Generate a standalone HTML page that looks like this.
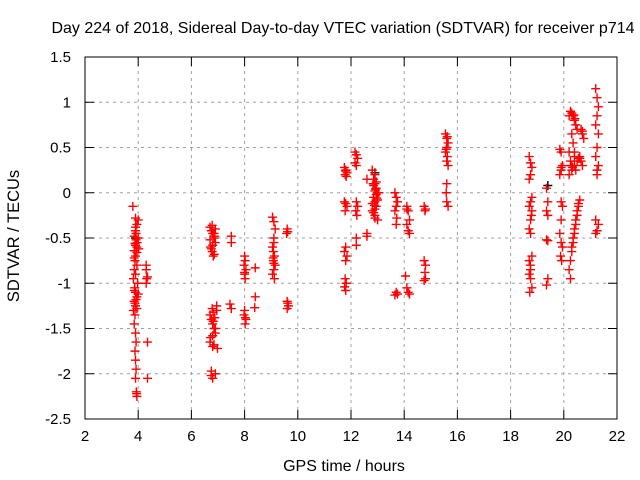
<!DOCTYPE html>
<html><head><meta charset="utf-8"><style>
body{margin:0;background:#fff}
svg{display:block;font-family:"Liberation Sans",sans-serif}
</style></head><body>
<svg id="chart" width="640" height="480">
<text x="343" y="33" font-size="16" text-anchor="middle">Day 224 of 2018, Sidereal Day-to-day VTEC variation (SDTVAR) for receiver p714</text>
<text x="344" y="471" font-size="16" text-anchor="middle">GPS time / hours</text>
<text transform="translate(19,236) rotate(-90)" font-size="16.5" text-anchor="middle">SDTVAR / TECUs</text>
<g id="grid"></g><g id="ticks"></g><g id="pts"></g>
<rect x="85" y="57" width="532" height="362" fill="none" stroke="#000" stroke-width="1"/>
</svg>
<script>
const xTicks=[2,4,6,8,10,12,14,16,18,20,22];
const yTicks=[-2.5,-2,-1.5,-1,-0.5,0,0.5,1,1.5];
const yTickLabels=["-2.5","-2","-1.5","-1","-0.5","0","0.5","1","1.5"];
const times=[3.8,3.9,3.95,3.9,3.85,3.92,3.88,3.95,3.85,3.9,3.88,3.95,3.85,3.9,3.82,3.87,3.9,3.95,3.85,3.9,3.82,3.88,3.85,3.9,3.92,3.88,3.9,3.92,3.9,3.93,3.95,4.0,4.0,4.02,3.98,4.0,3.92,3.96,3.86,3.9,3.95,3.85,3.92,3.88,3.95,3.9,3.94,
4.3,4.35,4.3,4.35,4.35,4.3,4.32,
6.7,6.75,6.8,6.85,6.9,6.72,6.78,6.82,6.88,6.7,6.8,6.9,6.75,6.85,6.7,6.75,6.8,6.85,6.9,6.72,6.78,6.82,6.88,6.95,6.7,6.8,6.9,6.95,6.85,6.98,6.75,6.9,6.78,6.82,6.74,6.8,6.86,6.8,
7.5,7.5,7.45,7.5,
8.0,8.02,7.98,8.05,8.0,8.02,8.0,7.98,8.05,8.02,8.4,8.4,8.38,8.0,8.03,
9.05,9.1,9.15,9.1,9.05,9.12,9.08,9.15,9.1,9.05,9.12,9.08,9.1,9.6,9.62,9.58,9.6,9.65,9.6,9.62,9.1,9.07,
11.75,11.8,11.85,11.78,11.82,11.75,11.8,11.85,11.78,11.8,11.75,11.85,11.8,11.78,11.82,11.8,11.8,11.76,
12.15,12.2,12.25,12.2,12.15,12.2,12.25,12.18,12.22,12.2,12.2,12.6,12.6,12.6,
12.8,12.85,12.9,12.95,13.0,12.85,12.9,12.95,12.8,12.9,13.0,12.85,12.9,12.95,12.8,12.9,12.95,13.0,12.85,12.9,13.05,12.9,12.92,12.88,12.97,12.83,
13.65,13.7,13.75,13.7,13.65,13.72,13.7,13.7,13.75,13.65,
14.1,14.15,14.2,14.1,14.15,14.2,14.05,14.1,14.15,14.2,14.1,
14.75,14.8,14.78,14.75,14.8,14.78,14.8,14.75,
15.55,15.6,15.65,15.6,15.55,15.62,15.6,15.65,15.6,15.58,15.6,15.65,15.62,15.58,
18.7,18.75,18.8,18.75,18.7,18.8,18.75,18.7,18.8,18.75,18.7,18.75,18.8,18.7,18.75,18.7,18.75,18.8,18.72,18.78,18.74,
19.35,19.4,19.35,19.4,19.35,19.4,19.4,19.35,
19.85,19.9,19.95,19.9,19.85,19.9,19.95,19.9,19.85,19.9,19.95,19.88,19.92,19.9,
20.2,20.25,20.3,20.35,20.4,20.45,20.5,20.3,20.35,20.4,20.25,20.3,20.45,20.2,20.3,20.4,20.5,20.55,20.2,20.25,20.3,20.35,20.4,20.45,20.5,20.55,20.6,20.25,20.3,20.35,20.4,20.45,20.5,20.55,20.2,20.4,20.38,20.42,20.28,20.33,
20.6,20.65,20.7,20.65,20.7,20.75,20.6,20.7,
21.2,21.25,21.3,21.25,21.2,21.3,21.25,21.2,21.3,21.25,21.2,21.3,21.25,21.2,21.25];
const values=[-0.15,-0.28,-0.35,-0.42,-0.48,-0.52,-0.56,-0.6,-0.64,-0.7,-0.75,-0.8,-0.85,-0.9,-0.95,-1.05,-1.1,-1.15,-1.2,-1.25,-1.3,-1.35,-1.45,-1.55,-1.65,-1.75,-1.85,-1.95,-2.05,-2.2,-2.25,-0.3,-0.5,-0.62,-1.0,-1.12,-0.45,-0.55,-1.08,-0.38,-0.66,-0.72,-1.18,-1.22,-1.28,-0.58,-2.22,
-0.85,-0.93,-1.0,-1.65,-2.05,-0.8,-0.95,
-0.38,-0.42,-0.45,-0.5,-0.55,-0.6,-0.65,-0.7,-0.48,-0.52,-0.58,-0.4,-0.62,-0.45,-1.35,-1.4,-1.45,-1.5,-1.55,-1.6,-1.28,-1.32,-1.38,-1.25,-1.65,-1.7,-1.5,-1.3,-1.68,-1.72,-1.97,-2.0,-0.36,-1.42,-2.02,-1.58,-0.68,-2.05,
-0.48,-0.55,-1.23,-1.28,
-0.7,-0.75,-0.8,-0.85,-0.9,-0.95,-1.3,-1.35,-1.4,-1.45,-0.83,-1.15,-1.27,-0.88,-1.38,
-0.27,-0.32,-0.4,-0.5,-0.6,-0.7,-0.75,-0.8,-0.85,-0.9,-0.95,-0.65,-0.55,-0.4,-0.43,-0.45,-1.2,-1.25,-1.28,-1.22,-0.78,-0.72,
0.28,0.25,0.22,0.2,0.18,-0.1,-0.12,-0.15,-0.2,-0.6,-0.65,-0.7,-0.75,-0.95,-1.0,-1.08,0.24,-1.04,
0.45,0.42,0.38,0.3,0.33,-0.1,-0.15,-0.2,-0.25,-0.5,-0.58,0.15,-0.48,-0.45,
0.25,0.15,0.1,0.05,0.0,-0.05,-0.1,-0.15,-0.2,-0.25,-0.3,0.08,0.02,-0.02,-0.12,-0.18,0.12,-0.08,-0.22,0.2,0.0,-0.28,0.04,-0.14,-0.06,0.1,
0.0,-0.05,-0.1,-0.15,-0.2,-0.28,-0.35,-1.1,-1.12,-1.13,
-0.15,-0.2,-0.3,-0.35,-0.42,-0.45,-0.92,-1.05,-1.1,-1.12,-0.18,
-0.15,-0.18,-0.2,-0.75,-0.8,-0.88,-0.95,-0.97,
0.65,0.6,0.55,0.5,0.45,0.4,0.35,0.3,0.1,0.0,-0.1,-0.15,0.62,0.48,
0.4,0.33,0.28,0.2,0.15,-0.05,-0.1,-0.15,-0.2,-0.3,-0.4,-0.45,-0.7,-0.75,-0.85,-0.9,-0.95,-1.05,-1.1,-0.25,-0.8,
0.05,-0.1,-0.2,-0.25,-0.52,-0.53,-0.95,-1.02,
0.48,0.45,0.3,0.25,0.2,-0.1,-0.15,-0.3,-0.45,-0.55,-0.6,-0.7,-0.75,0.28,
0.85,0.9,0.88,0.85,0.8,0.75,0.7,0.65,0.55,0.45,0.35,0.3,0.25,0.2,0.25,0.3,0.35,0.38,-0.85,-0.75,-0.65,-0.55,-0.45,-0.35,-0.25,-0.15,-0.08,-0.95,-0.6,-0.5,-0.4,-0.3,-0.2,-0.12,0.45,0.4,0.86,0.82,0.3,0.28,
0.4,0.35,0.3,0.7,0.65,0.6,0.38,0.68,
1.15,1.05,0.95,0.85,0.75,0.65,0.5,0.4,0.3,0.2,-0.3,-0.35,-0.42,-0.45,0.25];
const blackTimes=[3.9,12.9,19.4];
const blackValues=[-0.5,0.22,0.08];
const X=t=>85+(t-2)*532/20, Y=v=>57+(1.5-v)*362/4;
const NS='http://www.w3.org/2000/svg';
function mk(tag,at,parent){const e=document.createElementNS(NS,tag);for(const k in at)e.setAttribute(k,at[k]);parent.appendChild(e);return e;}
const g=document.getElementById('grid'),tk=document.getElementById('ticks'),pts=document.getElementById('pts');
xTicks.forEach(t=>{const x=X(t);
 if(t>2&&t<22){const l=mk('line',{x1:x,x2:x,y1:57,y2:419,stroke:'#a0a0a0','stroke-dasharray':'3,4'},g);
 
 }
 mk('line',{x1:x,x2:x,y1:419,y2:410,stroke:'#000'},tk);mk('line',{x1:x,x2:x,y1:57,y2:66,stroke:'#000'},tk);
 const tx=mk('text',{x:x,y:441,'font-size':15,'text-anchor':'middle'},tk);tx.textContent=t;
 
 });
yTicks.forEach((v,i)=>{const y=Y(v);
 if(v>-2.5&&v<1.5){const l=mk('line',{x1:85,x2:617,y1:y,y2:y,stroke:'#a0a0a0','stroke-dasharray':'3,4'},g);
 
 }
 mk('line',{x1:85,x2:94,y1:y,y2:y,stroke:'#000'},tk);mk('line',{x1:608,x2:617,y1:y,y2:y,stroke:'#000'},tk);
 const tx=mk('text',{x:71,y:y+5,'font-size':15,'text-anchor':'end'},tk);tx.textContent=yTickLabels[i];
 
 });
function plus(t,v,c){const x=X(t),y=Y(v);
 const p=mk('path',{d:`M${x-4.5},${y}h9M${x},${y-4.5}v9`,stroke:c,'stroke-width':1.4,fill:'none'},pts);
 
 }
blackTimes.forEach((t,i)=>plus(t,blackValues[i],'#000'));
times.forEach((t,i)=>plus(t,values[i],'#f00'));
</script>
</body></html>
